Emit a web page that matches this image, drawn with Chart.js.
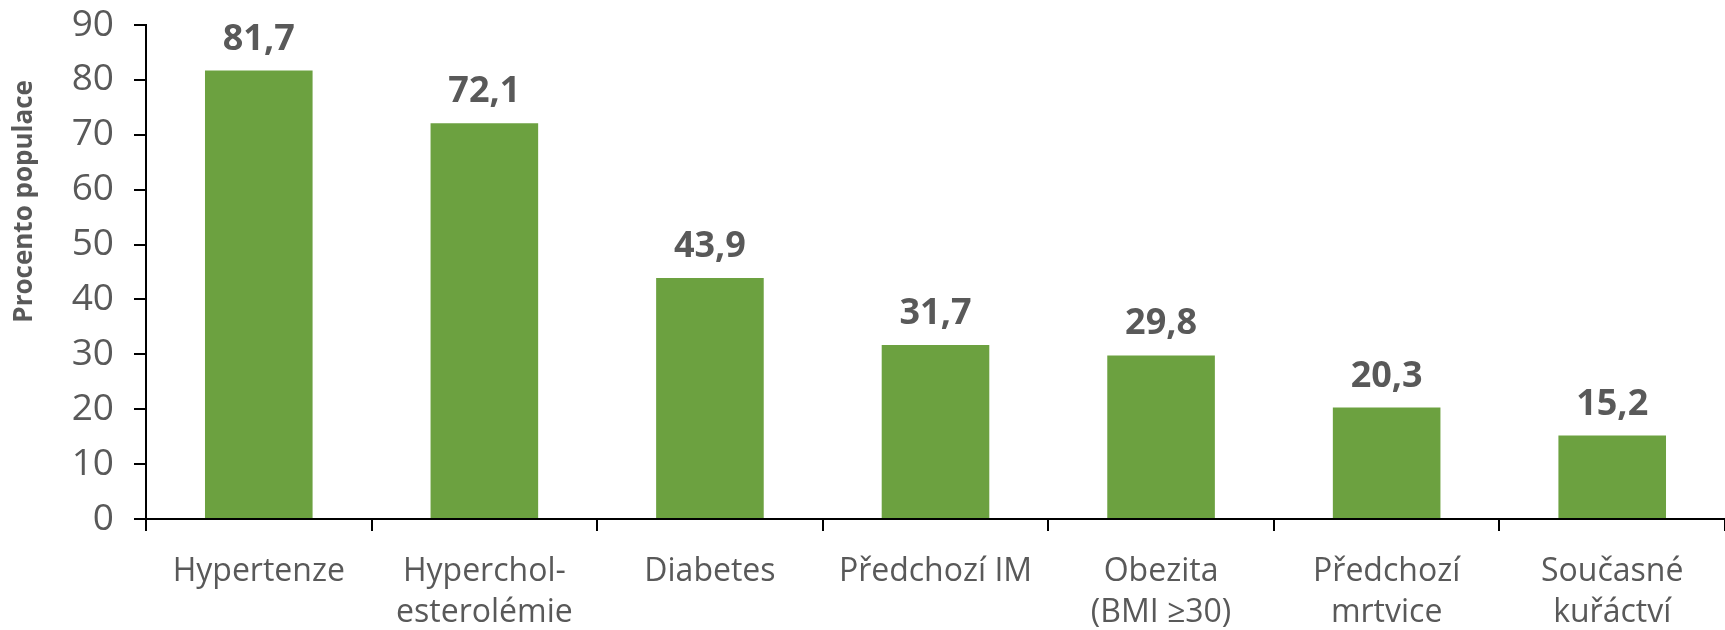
<!DOCTYPE html>
<html>
<head>
<meta charset="utf-8">
<script src="https://cdn.jsdelivr.net/npm/chart.js@4/dist/chart.umd.min.js"></script>
<style>
  html, body { margin: 0; padding: 0; background: #fff; }
  #wrap { width: 1725px; height: 630px; }
</style>
</head>
<body>
<div id="wrap"><canvas id="riskChart" width="1725" height="630"></canvas></div>
<script>
const categories = [
  'Hypertenze',
  ['Hyperchol-', 'esterolémie'],
  'Diabetes',
  'Předchozí IM',
  ['Obezita', '(BMI ≥30)'],
  ['Předchozí', 'mrtvice'],
  ['Současné', 'kuřáctví']
];
const prevalence = [81.7, 72.1, 43.9, 31.7, 29.8, 20.3, 15.2];
const yTicks = [0, 10, 20, 30, 40, 50, 60, 70, 80, 90];
const yTitle = 'Procento populace';

const FONT = "'Open Sans', 'Noto Sans', sans-serif";
const GREY = '#595959';

// value labels above each bar, decimal comma
const barValues = {
  id: 'barValues',
  afterDatasetsDraw(chart) {
    const ctx = chart.ctx;
    const meta = chart.getDatasetMeta(0);
    ctx.save();
    ctx.font = 'bold 36px ' + FONT;
    ctx.fillStyle = GREY;
    ctx.textAlign = 'center';
    ctx.textBaseline = 'alphabetic';
    meta.data.forEach((bar, i) => {
      const txt = prevalence[i].toFixed(1).replace('.', ',');
      ctx.fillText(txt, bar.x, bar.y - 21);
    });
    ctx.restore();
  }
};

// rotated y title, sits higher than the axis middle
const yAxisTitle = {
  id: 'yAxisTitle',
  afterDraw(chart) {
    const ctx = chart.ctx;
    const area = chart.chartArea;
    ctx.save();
    ctx.translate(25, area.top + (area.bottom - area.top) * 0.357);
    ctx.rotate(-Math.PI / 2);
    ctx.font = 'bold 26px ' + FONT;
    ctx.fillStyle = GREY;
    ctx.textAlign = 'center';
    ctx.textBaseline = 'middle';
    ctx.fillText(yTitle, 0, 0);
    ctx.restore();
  }
};

new Chart(document.getElementById('riskChart'), {
  type: 'bar',
  data: {
    labels: categories,
    datasets: [{
      data: prevalence,
      backgroundColor: '#6ca140',
      barPercentage: 0.477,
      categoryPercentage: 1
    }]
  },
  options: {
    responsive: false,
    animation: false,
    layout: { padding: { top: 25, right: 0, left: 0, bottom: 0 } },
    plugins: {
      legend: { display: false },
      tooltip: { enabled: false }
    },
    scales: {
      x: {
        grid: {
          offset: true,
          drawOnChartArea: false,
          tickLength: 12,
          color: '#000',
          lineWidth: 2
        },
        border: { color: '#000', width: 2 },
        ticks: {
          color: GREY,
          font: { family: FONT, size: 32, lineHeight: 1.27 },
          padding: 21,
          maxRotation: 0,
          autoSkip: false
        },
        afterFit(scale) {
          scale.height = 111;
          scale.paddingLeft = 0;
          scale.paddingRight = 0;
        }
      },
      y: {
        min: 0,
        max: 90,
        afterBuildTicks(scale) { scale.ticks = yTicks.map(v => ({ value: v })); },
        grid: {
          drawOnChartArea: false,
          tickLength: 12,
          color: '#000',
          lineWidth: 2
        },
        border: { color: '#000', width: 2 },
        ticks: {
          color: GREY,
          font: { family: FONT, size: 37 },
          padding: 20
        },
        afterFit(scale) {
          scale.width = 146;
          scale.paddingTop = 0;
          scale.paddingBottom = 0;
        }
      }
    }
  },
  plugins: [barValues, yAxisTitle]
});
</script>
</body>
</html>
